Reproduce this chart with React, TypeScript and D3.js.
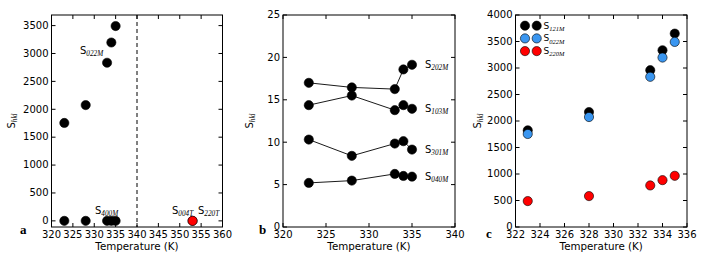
import React from "react";
import * as d3 from "d3";

// ---------- Data ----------
const temps = [323, 328, 333, 334, 335];

// Panel a
const a022M = [1755, 2075, 2834, 3197, 3492];
const a400M = [0, 0, 0, 0, 0];
const aTetraTemps = [353, 353];
const aTetraVals = [0, 0];

// Panel b
const b202M = [17.0, 16.46, 16.26, 18.58, 19.13];
const b103M = [14.37, 15.5, 13.78, 14.37, 13.94];
const b301M = [10.31, 8.39, 9.84, 10.12, 9.13];
const b040M = [5.2, 5.47, 6.26, 6.02, 5.94];

// Panel c
const c121M = [1824, 2169, 2959, 3335, 3649];
const c022M = [1755, 2075, 2834, 3197, 3492];
const c220M = [489, 583, 784, 884, 966];

const aXTicks = [320, 325, 330, 335, 340, 345, 350, 355, 360];
const aYTicks = [0, 500, 1000, 1500, 2000, 2500, 3000, 3500];
const bXTicks = [320, 325, 330, 335, 340];
const bYTicks = [0, 5, 10, 15, 20, 25];
const cXTicks = [322, 324, 326, 328, 330, 332, 334, 336];
const cYTicks = [0, 500, 1000, 1500, 2000, 2500, 3000, 3500, 4000];

const TOP = 15;
const BOTTOM = 227;
const SANS = "'DejaVu Sans', sans-serif";
const SERIF = "'Liberation Serif', 'DejaVu Serif', serif";
const FS = 10;
const R = 4.6;
const BLUE = "#3a96f0";
const RED = "#ff0000";

function Sub({ x, y, sub, anchor = "start", fs = FS }: any) {
  return (
    <text x={x} y={y} fontFamily={SANS} fontSize={fs} textAnchor={anchor} fill="#000">
      S
      <tspan fontFamily={SERIF} fontStyle="italic" fontSize={fs * 0.72} dy={2.3}>
        {sub}
      </tspan>
    </text>
  );
}

function Frame({ x, y, xTicks, yTicks, letter, letterY }: any) {
  const [x0, x1] = x.range();
  const [y0, y1] = y.range();
  const tl = 4;
  return (
    <g>
      <rect x={x0} y={y1} width={x1 - x0} height={y0 - y1} fill="none" stroke="#000" strokeWidth={1} />
      {xTicks.map((t: number) => (
        <g key={"x" + t}>
          <line x1={x(t)} x2={x(t)} y1={y0} y2={y0 - tl} stroke="#000" />
          <line x1={x(t)} x2={x(t)} y1={y1} y2={y1 + tl} stroke="#000" />
          <text x={x(t)} y={y0 + 10.5} fontFamily={SANS} fontSize={FS} textAnchor="middle">
            {t}
          </text>
        </g>
      ))}
      {yTicks.map((t: number) => (
        <g key={"y" + t}>
          <line x1={x0} x2={x0 + tl} y1={y(t)} y2={y(t)} stroke="#000" />
          <line x1={x1} x2={x1 - tl} y1={y(t)} y2={y(t)} stroke="#000" />
          <text x={x0 - 3} y={y(t) + 3.3} fontFamily={SANS} fontSize={FS} textAnchor="end">
            {t}
          </text>
        </g>
      ))}
      <text x={(x0 + x1) / 2} y={250} fontFamily={SANS} fontSize={10.3} textAnchor="middle">
        Temperature (K)
      </text>
      <text x={letter[0]} y={letterY} fontFamily={SERIF} fontWeight="bold" fontSize={13}>
        {letter[1]}
      </text>
    </g>
  );
}

function YLabel({ cx, cy }: any) {
  return (
    <g transform={`translate(${cx},${cy}) rotate(-90)`}>
      <Sub x={0} y={0} sub="hkl" anchor="middle" />
    </g>
  );
}

function Dots({ x, y, xs, ys, fill }: any) {
  return (
    <g>
      {xs.map((t: number, i: number) => (
        <circle key={i} cx={x(t)} cy={y(ys[i])} r={R} fill={fill} stroke="#000" strokeWidth={0.6} />
      ))}
    </g>
  );
}

export default function App() {
  // Panel a
  const ax = d3.scaleLinear().domain([320, 360]).range([51.5, 222.5]);
  const ay = d3.scaleLinear().domain([-110, 3690]).range([BOTTOM, TOP]);
  // Panel b
  const bx = d3.scaleLinear().domain([320, 340]).range([283, 455]);
  const by = d3.scaleLinear().domain([0, 25]).range([BOTTOM, TOP]);
  // Panel c
  const cx = d3.scaleLinear().domain([322, 336]).range([515.5, 687]);
  const cy = d3.scaleLinear().domain([0, 4000]).range([BOTTOM, TOP]);

  const line = (xs: number[], ys: number[], xsc: any, ysc: any) =>
    d3.line<number>().x((d, i) => xsc(xs[i])).y((d) => ysc(d))(ys) || "";

  const bSeries = [
    { v: b202M, name: "202M" },
    { v: b103M, name: "103M" },
    { v: b301M, name: "301M" },
    { v: b040M, name: "040M" },
  ];

  const cSeries = [
    { v: c121M, name: "121M", fill: "#000" },
    { v: c022M, name: "022M", fill: BLUE },
    { v: c220M, name: "220M", fill: RED },
  ];

  return (
    <svg
      width={706}
      height={264}
      style={{ position: "absolute", left: 0, top: 0, background: "#fff" }}
    >
      <rect width={706} height={264} fill="#fff" />

      {/* Panel a */}
      <line x1={ax(340)} x2={ax(340)} y1={TOP} y2={BOTTOM} stroke="#000" strokeDasharray="4,3" strokeWidth={1} />
      <Dots x={ax} y={ay} xs={temps} ys={a022M} fill="#000" />
      <Dots x={ax} y={ay} xs={temps} ys={a400M} fill="#000" />
      <Dots x={ax} y={ay} xs={aTetraTemps} ys={aTetraVals} fill={RED} />
      <Sub x={80} y={54} sub="022M" />
      <Sub x={95} y={214} sub="400M" />
      <Sub x={172} y={214} sub="004T" />
      <Sub x={198} y={214} sub="220T" />
      <Frame x={ax} y={ay} xTicks={aXTicks} yTicks={aYTicks} letter={[20, "a"]} letterY={234} />
      <YLabel cx={14.5} cy={121} />

      {/* Panel b */}
      {bSeries.map((s) => (
        <g key={s.name}>
          <path d={line(temps, s.v, bx, by)} fill="none" stroke="#000" strokeWidth={0.9} />
          <Dots x={bx} y={by} xs={temps} ys={s.v} fill="#000" />
          <Sub x={425} y={by(s.v[4]) + 3} sub={s.name} />
        </g>
      ))}
      <Frame x={bx} y={by} xTicks={bXTicks} yTicks={bYTicks} letter={[259, "b"]} letterY={234} />
      <YLabel cx={253} cy={121} />

      {/* Panel c */}
      {cSeries.map((s, i) => (
        <g key={s.name}>
          <Dots x={cx} y={cy} xs={temps} ys={s.v} fill={s.fill} />
          <circle cx={525} cy={25.7 + i * 12.7} r={R} fill={s.fill} stroke="#000" strokeWidth={0.6} />
          <circle cx={536.7} cy={25.7 + i * 12.7} r={R} fill={s.fill} stroke="#000" strokeWidth={0.6} />
          <Sub x={543.5} y={25.7 + i * 12.7 + 3} sub={s.name} fs={9} />
        </g>
      ))}
      <Frame x={cx} y={cy} xTicks={cXTicks} yTicks={cYTicks} letter={[486, "c"]} letterY={238} />
      <YLabel cx={481} cy={121} />
    </svg>
  );
}
